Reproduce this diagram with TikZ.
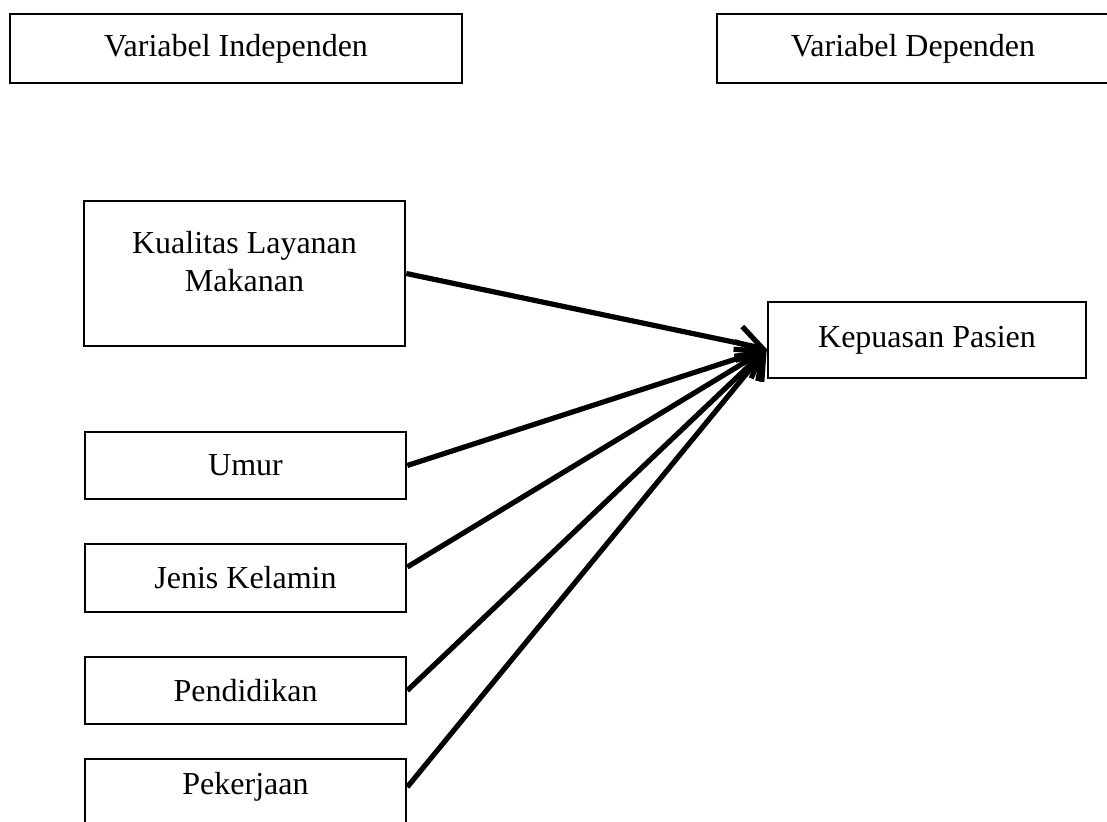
\documentclass[tikz,border=0pt]{standalone}
\usepackage{fontspec}
\setmainfont{Liberation Serif}
\usetikzlibrary{arrows.meta}

\begin{document}
\begin{tikzpicture}[x=0.5pt,y=-0.5pt]

		\tikzset{box/.style={draw,line width=1.3pt,minimum width=160.5pt,inner sep=0pt,
			font=\fontsize{16}{19}\selectfont,align=center},
			link/.style={line width=2.6pt,-{Straight Barb[length=12pt,width=17pt,line width=2.6pt]}}}
		\useasboundingbox (0,0) rectangle (1107,821);

	    \node[box,minimum width=226pt,minimum height=34.5pt] (indep) at (236,48.5) {Variabel Independen};
	    \node[box,minimum width=199pt,minimum height=34.5pt] (dep) at (916,48.5) {\hspace*{-3pt}Variabel Dependen};

	    \node[box,minimum height=72.5pt,text depth=12pt] (kual) at (244.5,273.5) {Kualitas Layanan\\Makanan};
	    \node[box,minimum height=33.5pt] (umur) at (245.5,465.5) {Umur};
	    \node[box,minimum height=34pt] (jenis) at (245.5,578) {Jenis Kelamin};
	    \node[box,minimum height=33.5pt] (pend) at (245.5,690.5) {Pendidikan};
	    \node[box,minimum height=38pt,text depth=13.5pt] (pek) at (245.5,797) {Pekerjaan};

	    \node[box,minimum width=159pt,minimum height=38pt] (kep) at (927,340) {Kepuasan Pasien};

	    \draw[link] (kual.east) -- ([yshift=-4.5pt]kep.west);
	    \draw[link] (umur.east) -- ([yshift=-4.5pt]kep.west);
	    \draw[link] ([yshift=5.5pt]jenis.east) -- ([yshift=-4.5pt]kep.west);
	    \draw[link] (pend.east) -- ([yshift=-4.5pt]kep.west);
	    \draw[link] ([yshift=5pt]pek.east) -- ([yshift=-4.5pt]kep.west);

	\end{tikzpicture}
\end{document}
